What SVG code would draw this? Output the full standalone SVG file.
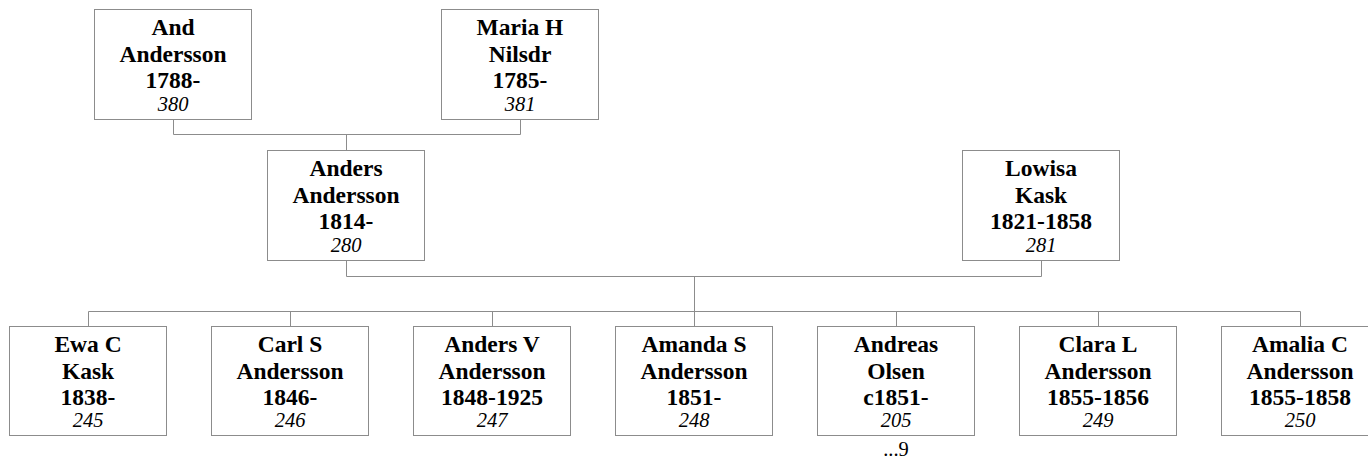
<svg xmlns="http://www.w3.org/2000/svg" width="1368" height="459" viewBox="0 0 1368 459">
<style>
.box{fill:#fff;stroke:#8c8c8c;stroke-width:1}
.con{fill:none;stroke:#8c8c8c;stroke-width:1}
text{font-family:"Liberation Serif","Times New Roman",serif;text-anchor:middle;fill:#000}
.b{font-weight:bold;font-size:23.5px}
.i{font-style:italic;font-size:20.5px}
.n{font-size:20.5px}
</style>
<rect width="1368" height="459" fill="#fff"/>
<g id="connectors">
<path class="con" d="M173.5,119.5 V134.5 H520.5 V119.5 M346.5,134.5 V150.5"/>
<path class="con" d="M346.5,260.5 V276.5 H1041.5 V260.5 M694.5,276.5 V311.5"/>
<path class="con" d="M88.5,326.5 V311.5 H1300.5 V326.5 M290.5,311.5 V326.5 M492.5,311.5 V326.5 M694.5,311.5 V326.5 M896.5,311.5 V326.5 M1098.5,311.5 V326.5"/>
</g>
<g id="n380">
<rect class="box" x="94.5" y="9.5" width="157" height="110"/>
<text class="b" x="173" y="35">And</text>
<text class="b" x="173" y="61.5">Andersson</text>
<text class="b" x="173" y="88">1788-</text>
<text class="i" x="173" y="110.5">380</text>
</g>
<g id="n381">
<rect class="box" x="441.5" y="9.5" width="157" height="110"/>
<text class="b" x="520" y="35">Maria H</text>
<text class="b" x="520" y="61.5">Nilsdr</text>
<text class="b" x="520" y="88">1785-</text>
<text class="i" x="520" y="110.5">381</text>
</g>
<g id="n280">
<rect class="box" x="267.5" y="150.5" width="157" height="110"/>
<text class="b" x="346" y="176">Anders</text>
<text class="b" x="346" y="202.5">Andersson</text>
<text class="b" x="346" y="229">1814-</text>
<text class="i" x="346" y="251.5">280</text>
</g>
<g id="n281">
<rect class="box" x="962.5" y="150.5" width="157" height="110"/>
<text class="b" x="1041" y="176">Lowisa</text>
<text class="b" x="1041" y="202.5">Kask</text>
<text class="b" x="1041" y="229">1821-1858</text>
<text class="i" x="1041" y="251.5">281</text>
</g>
<g id="n245">
<rect class="box" x="9.5" y="326.5" width="157" height="109"/>
<text class="b" x="88" y="352">Ewa C</text>
<text class="b" x="88" y="378.5">Kask</text>
<text class="b" x="88" y="405">1838-</text>
<text class="i" x="88" y="427">245</text>
</g>
<g id="n246">
<rect class="box" x="211.5" y="326.5" width="157" height="109"/>
<text class="b" x="290" y="352">Carl S</text>
<text class="b" x="290" y="378.5">Andersson</text>
<text class="b" x="290" y="405">1846-</text>
<text class="i" x="290" y="427">246</text>
</g>
<g id="n247">
<rect class="box" x="413.5" y="326.5" width="157" height="109"/>
<text class="b" x="492" y="352">Anders V</text>
<text class="b" x="492" y="378.5">Andersson</text>
<text class="b" x="492" y="405">1848-1925</text>
<text class="i" x="492" y="427">247</text>
</g>
<g id="n248">
<rect class="box" x="615.5" y="326.5" width="157" height="109"/>
<text class="b" x="694" y="352">Amanda S</text>
<text class="b" x="694" y="378.5">Andersson</text>
<text class="b" x="694" y="405">1851-</text>
<text class="i" x="694" y="427">248</text>
</g>
<g id="n205">
<rect class="box" x="817.5" y="326.5" width="157" height="109"/>
<text class="b" x="896" y="352">Andreas</text>
<text class="b" x="896" y="378.5">Olsen</text>
<text class="b" x="896" y="405">c1851-</text>
<text class="i" x="896" y="427">205</text>
<text class="n" x="896" y="456">...9</text>
</g>
<g id="n249">
<rect class="box" x="1019.5" y="326.5" width="157" height="109"/>
<text class="b" x="1098" y="352">Clara L</text>
<text class="b" x="1098" y="378.5">Andersson</text>
<text class="b" x="1098" y="405">1855-1856</text>
<text class="i" x="1098" y="427">249</text>
</g>
<g id="n250">
<rect class="box" x="1221.5" y="326.5" width="157" height="109"/>
<text class="b" x="1300" y="352">Amalia C</text>
<text class="b" x="1300" y="378.5">Andersson</text>
<text class="b" x="1300" y="405">1855-1858</text>
<text class="i" x="1300" y="427">250</text>
</g>
</svg>
